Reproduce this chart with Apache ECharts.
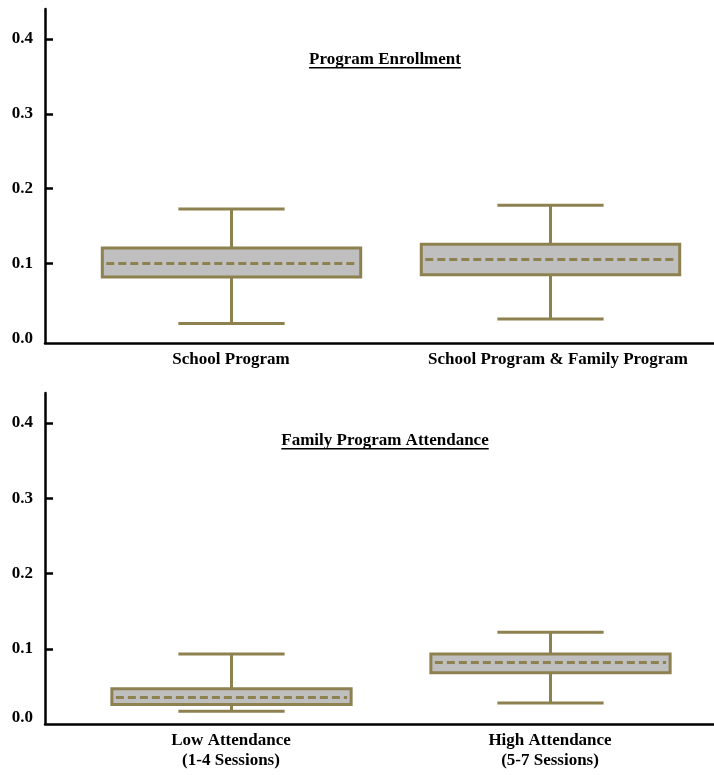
<!DOCTYPE html>
<html>
<head>
<meta charset="utf-8">
<script src="https://cdn.jsdelivr.net/npm/echarts@6/dist/echarts.min.js"></script>
<style>
  html, body { margin: 0; padding: 0; background: #fff; }
  #chart { width: 714px; height: 775px; }
</style>
</head>
<body>
<div id="chart"></div>
<script>
// Panel 1: program enrollment
const enrollTitle = 'Program Enrollment';
const enrollCategories = ['School Program', 'School Program & Family Program'];
const enrollLow    = [0.020, 0.026];
const enrollQ1     = [0.082, 0.085];
const enrollMedian = [0.101, 0.106];
const enrollQ3     = [0.121, 0.126];
const enrollHigh   = [0.173, 0.178];

// Panel 2: family program attendance
const attendTitle = 'Family Program Attendance';
const attendCategories = ['Low Attendance\n(1-4 Sessions)', 'High Attendance\n(5-7 Sessions)'];
const attendLow    = [0.017, 0.028];
const attendQ1     = [0.026, 0.068];
const attendMedian = [0.036, 0.082];
const attendQ3     = [0.047, 0.093];
const attendHigh   = [0.093, 0.122];

// Y-axis tick labels
const yTickValues = [0, 0.1, 0.2, 0.3, 0.4];

const OLIVE = '#8e8150';
const FILL = '#bfbfbf';
const FONT = '"Liberation Serif", "Times New Roman", serif';
const FS = 17;

const chart = echarts.init(document.getElementById('chart'), null, { renderer: 'canvas' });

function rows(low, q1, med, q3, high) {
  return low.map((_, i) => [i, low[i], q1[i], med[i], q3[i], high[i]]);
}

function makeRender(boxWidth, capWidth) {
  return function (params, api) {
    const x = api.value(0);
    const pLow = api.coord([x, api.value(1)]);
    const pQ1 = api.coord([x, api.value(2)]);
    const pMed = api.coord([x, api.value(3)]);
    const pQ3 = api.coord([x, api.value(4)]);
    const pHigh = api.coord([x, api.value(5)]);
    const bw = api.size([boxWidth, 0])[0];
    const cw = api.size([capWidth, 0])[0];
    const cx = Math.round(pMed[0]) + 0.5;
    const my = Math.round(pMed[1]) + 0.5;
    const line = { stroke: OLIVE, lineWidth: 3 };
    return {
      type: 'group',
      children: [
        { type: 'line', shape: { x1: cx, y1: pHigh[1], x2: cx, y2: pQ3[1] }, style: line },
        { type: 'line', shape: { x1: cx, y1: pQ1[1], x2: cx, y2: pLow[1] }, style: line },
        { type: 'line', shape: { x1: cx - cw / 2, y1: pHigh[1], x2: cx + cw / 2, y2: pHigh[1] }, style: line },
        { type: 'line', shape: { x1: cx - cw / 2, y1: pLow[1], x2: cx + cw / 2, y2: pLow[1] }, style: line },
        {
          type: 'rect',
          shape: { x: cx - bw / 2, y: pQ3[1], width: bw, height: pQ1[1] - pQ3[1] },
          style: { fill: FILL, stroke: OLIVE, lineWidth: 3 }
        },
        {
          type: 'line',
          shape: { x1: cx - bw / 2 + 4, y1: my, x2: cx + bw / 2 - 4, y2: my },
          style: { stroke: OLIVE, lineWidth: 3, lineDash: [8, 4] }
        }
      ]
    };
  };
}

function xAxisFor(gridIndex, cats, shiftLast) {
  return {
    gridIndex: gridIndex,
    type: 'value',
    min: -0.583,
    max: 1.514,
    splitLine: { show: false },
    axisLine: { show: true, onZero: false, lineStyle: { color: '#000', width: 2.5 } },
    axisTick: { show: false },
    axisLabel: {
      customValues: [0, 1],
      formatter: (v) => {
        const i = Math.round(v);
        return (shiftLast && i === 1) ? '{s|' + cats[i] + '}' : cats[i];
      },
      color: '#000',
      fontFamily: FONT,
      fontWeight: 'bold',
      fontSize: FS,
      lineHeight: 20,
      margin: 7,
      rich: {
        s: { fontFamily: FONT, fontWeight: 'bold', fontSize: FS, color: '#000', padding: [0, 0, 0, 16] }
      }
    }
  };
}

function yAxisFor(gridIndex, min, max, zeroPad) {
  return {
    gridIndex: gridIndex,
    type: 'value',
    min: min,
    max: max,
    splitLine: { show: false },
    axisLine: { show: true, onZero: false, lineStyle: { color: '#000', width: 2.5 } },
    axisTick: {
      show: true,
      inside: true,
      length: 8,
      customValues: yTickValues.slice(1),
      lineStyle: { color: '#000', width: 2.5 }
    },
    axisLabel: {
      customValues: yTickValues,
      formatter: (v) => (Math.abs(v) < 1e-9 ? '{z|0.0}' : v.toFixed(1)),
      color: '#000',
      fontFamily: FONT,
      fontWeight: 'bold',
      fontSize: FS,
      margin: 12,
      rich: {
        z: { fontFamily: FONT, fontWeight: 'bold', fontSize: FS, color: '#000', padding: [0, 0, zeroPad, 0] }
      }
    }
  };
}

// Measure title width for the underline
const measureCtx = document.createElement('canvas').getContext('2d');
measureCtx.font = 'bold ' + FS + 'px ' + FONT;
function titleGraphic(text, cx, cy) {
  const w = measureCtx.measureText(text).width;
  return [
    {
      type: 'text',
      left: cx - w / 2,
      top: cy - 9,
      style: { text: text, font: 'bold ' + FS + 'px ' + FONT, fill: '#000' }
    },
    {
      type: 'rect',
      left: cx - w / 2,
      top: cy + 7,
      shape: { width: w, height: 1.5 },
      style: { fill: '#000' }
    }
  ];
}

chart.setOption({
  animation: false,
  backgroundColor: '#fff',
  grid: [
    { left: 45, right: 0, top: 9, height: 334 },
    { left: 45, right: 0, top: 393, height: 331 }
  ],
  xAxis: [xAxisFor(0, enrollCategories, true), xAxisFor(1, attendCategories, false)],
  yAxis: [yAxisFor(0, -0.006, 0.44, 0), yAxisFor(1, 0, 0.44, 12)],
  graphic: [
    ...titleGraphic(enrollTitle, 385, 60),
    ...titleGraphic(attendTitle, 385, 441)
  ],
  series: [
    {
      type: 'custom',
      xAxisIndex: 0,
      yAxisIndex: 0,
      renderItem: makeRender(0.81, 0.333),
      encode: { x: 0, y: [1, 2, 3, 4, 5] },
      data: rows(enrollLow, enrollQ1, enrollMedian, enrollQ3, enrollHigh)
    },
    {
      type: 'custom',
      xAxisIndex: 1,
      yAxisIndex: 1,
      renderItem: makeRender(0.75, 0.333),
      encode: { x: 0, y: [1, 2, 3, 4, 5] },
      data: rows(attendLow, attendQ1, attendMedian, attendQ3, attendHigh)
    }
  ]
});
</script>
</body>
</html>
